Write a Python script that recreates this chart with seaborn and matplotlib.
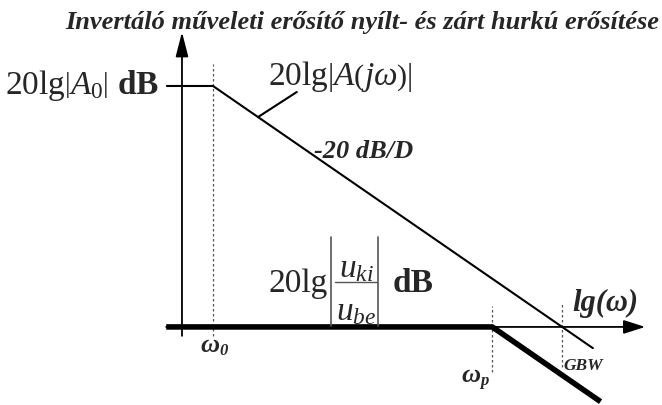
import matplotlib
matplotlib.use("Agg")
import matplotlib.pyplot as plt
from matplotlib.lines import Line2D
from matplotlib.transforms import IdentityTransform
import numpy as np
import pandas as pd
import seaborn as sns

# Bode diagram data: x in decades (lg ω), y in dB
lg_w0 = 1.0          # open-loop corner ω0
lg_wp = 5.0          # closed-loop corner ωp
lg_gbw = 6.0         # gain-bandwidth product
A0_db = 100.0        # 20lg|A0|
slope = -20.0        # dB per decade

open_lg = [0.34, lg_w0, 6.44]
open_db = [A0_db, A0_db, A0_db + slope * (6.44 - lg_w0)]

closed_lg = [0.33, lg_wp, 6.55]
closed_db = [0.0, 0.0, slope * (6.55 - lg_wp)]

sns.set_theme(style="white")
plt.rcParams["font.family"] = ["Liberation Serif", "DejaVu Serif"]
plt.rcParams["mathtext.fontset"] = "custom"
plt.rcParams["mathtext.rm"] = "Liberation Serif"
plt.rcParams["mathtext.it"] = "Liberation Serif:italic"
plt.rcParams["mathtext.bf"] = "Liberation Serif:bold"

fig = plt.figure(figsize=(6.62, 4.06), dpi=100)
ax = fig.add_axes([0, 0, 1, 1])
ax.set_xlim(-2.05, 7.43)
ax.set_ylim(-32.4, 136.1)
ax.axis("off")

# axes arrows
ax.annotate("", xy=(0.556, 122.4), xytext=(0.556, -3.7),
            arrowprops=dict(arrowstyle="-|>,head_length=1.25,head_width=0.32",
                            color="black", lw=1.3, shrinkA=0, shrinkB=0))
ax.annotate("", xy=(7.19, 0), xytext=(0.33, 0),
            arrowprops=dict(arrowstyle="-|>,head_length=1.1,head_width=0.35",
                            color="black", lw=1.3, shrinkA=0, shrinkB=0))

# helper dotted verticals
dots = (0, (2, 2))
ax.vlines(lg_w0, -3.7, 109.0, colors="#555555", linestyles=[dots], lw=0.9)
ax.vlines(lg_wp, -18.7, 8.7, colors="#555555", linestyles=[dots], lw=0.9)
ax.vlines(lg_gbw, -16.6, 10.0, colors="#555555", linestyles=[dots], lw=0.9)

open_df = pd.DataFrame({"lg": open_lg, "db": open_db})
closed_df = pd.DataFrame({"lg": closed_lg, "db": closed_db})
sns.lineplot(data=open_df, x="lg", y="db", ax=ax, color="black", lw=1.5,
             sort=False, estimator=None)
sns.lineplot(data=closed_df, x="lg", y="db", ax=ax, color="black", lw=4.0,
             sort=False, estimator=None, solid_capstyle="butt")

# leader line to the open-loop label
ax.plot([1.645, 2.20], [87.1, 97.5], color="black", lw=1.5)


def px(x, y):
    # figure pixel (from top-left) to display coords
    return x, 406 - y


def seg(x0, y0, x1, y1, color="black", lw=1.0):
    a, b = px(x0, y0)
    c, d = px(x1, y1)
    fig.add_artist(Line2D([a, c], [b, d], transform=IdentityTransform(),
                          color=color, lw=lw))


ax.text(*px(362, 29), "Invertáló műveleti erősítő nyílt- és zárt hurkú erősítése",
        transform=None, ha="center", va="baseline", fontsize=19,
        fontweight="bold", fontstyle="italic")

ax.text(*px(5, 94), r"$\mathrm{20lg}\left|A_0\right|$ $\mathbf{dB}$", transform=None,
        ha="left", va="baseline", fontsize=24)
ax.text(*px(268, 85), r"$\mathrm{20lg}\left|A\left(j\omega\right)\right|$", transform=None,
        ha="left", va="baseline", fontsize=24)
ax.text(*px(314, 158), "-20 dB/D", transform=None, ha="left", va="baseline",
        fontsize=19, fontweight="bold", fontstyle="italic")

# closed-loop gain label: 20lg|u_ki / u_be| dB
ax.text(*px(268, 292), "20lg", transform=None, ha="left", va="baseline", fontsize=24)
seg(331, 238, 331, 327, color="#555555", lw=1.2)
seg(378, 238, 378, 327, color="#555555", lw=1.2)
seg(335, 283, 377, 283, color="#555555", lw=1.0)
ax.text(*px(356, 277), r"$u_{ki}$", transform=None, ha="center", va="baseline", fontsize=24)
ax.text(*px(356, 320), r"$u_{be}$", transform=None, ha="center", va="baseline", fontsize=24)
ax.text(*px(393, 292), "dB", transform=None, ha="left", va="baseline",
        fontsize=24, fontweight="bold")

ax.text(*px(572, 311), "lg(ω)", transform=None, ha="left", va="baseline",
        fontsize=22, fontweight="bold", fontstyle="italic")

ax.text(*px(200, 352), "ω", transform=None, ha="left", va="baseline",
        fontsize=19, fontweight="bold", fontstyle="italic")
ax.text(*px(219, 355), "0", transform=None, ha="left", va="baseline",
        fontsize=12, fontweight="bold", fontstyle="italic")
ax.text(*px(461, 382), "ω", transform=None, ha="left", va="baseline",
        fontsize=19, fontweight="bold", fontstyle="italic")
ax.text(*px(480, 385), "p", transform=None, ha="left", va="baseline",
        fontsize=12, fontweight="bold", fontstyle="italic")
ax.text(*px(563, 370), "GBW", transform=None, ha="left", va="baseline",
        fontsize=12.5, fontweight="bold", fontstyle="italic")

fig.savefig("out.png", dpi=100)
